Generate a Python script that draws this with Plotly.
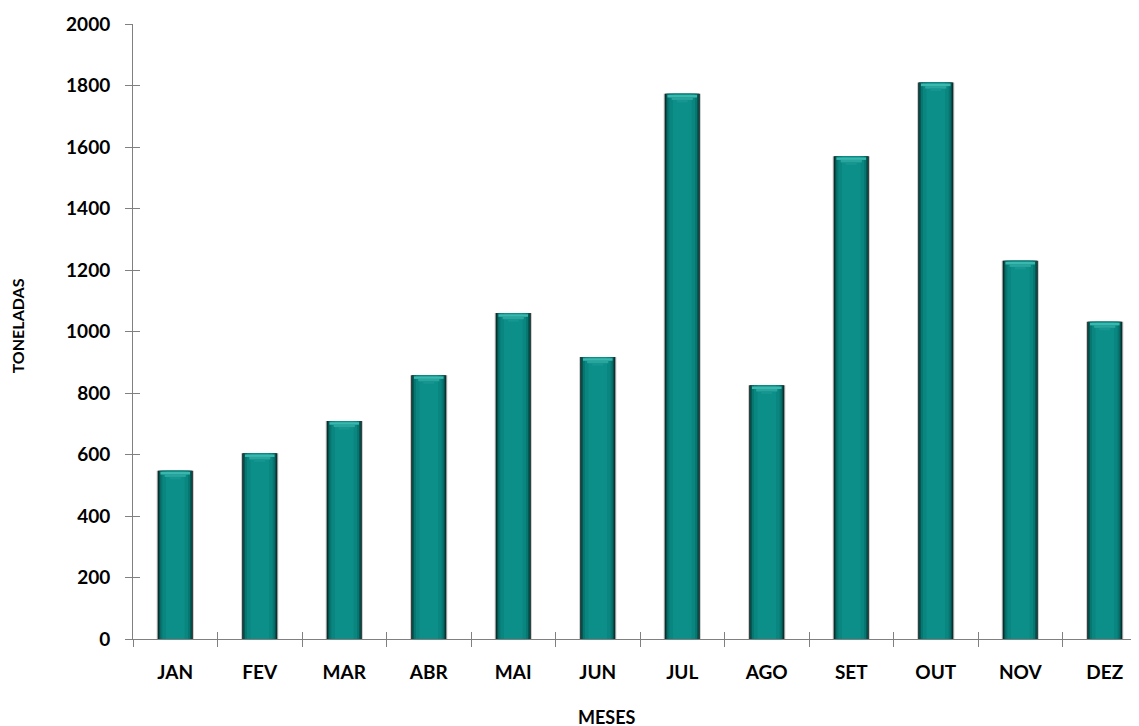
import plotly.graph_objects as go

months = ["JAN", "FEV", "MAR", "ABR", "MAI", "JUN", "JUL", "AGO", "SET", "OUT", "NOV", "DEZ"]
tons = [547, 604, 709, 858, 1060, 917, 1773, 825, 1570, 1810, 1230, 1032]
y_ticks = [0, 200, 400, 600, 800, 1000, 1200, 1400, 1600, 1800, 2000]

FONT = "Lato"
AX = "#808080"

fig = go.Figure()
# soft grey halo, then layered bars to imitate the bevelled 3-D look
layers = [(0.44, "#c8c8c8"), (0.415, "#0b1a19"), (0.395, "#06504c"), (0.355, "#077570"),
          (0.305, "#0a8680"), (0.22, "#0d8f89")]
for w, c in layers:
    fig.add_trace(go.Bar(x=months, y=tons, width=w, marker=dict(color=c, line=dict(width=0)),
                         showlegend=False, hoverinfo=None if c == "#0b1a19" else "skip"))
# light chevron at the top of each bar
chev = [(0.35, 4, 12, "#3ab7ae"), (0.25, 12, 20, "#2aa59e"), (0.13, 20, 28, "#169690")]
for w, lo, hi, c in chev:
    fig.add_trace(go.Bar(x=months, y=[hi - lo] * len(tons), base=[v - hi for v in tons], width=w,
                         marker=dict(color=c, line=dict(width=0)), showlegend=False, hoverinfo="skip"))
# invisible trace for overlay axes (inside ticks to get crossing tick marks)
fig.add_trace(go.Bar(x=months, y=tons, xaxis="x2", yaxis="y2", width=0.01,
                     marker=dict(opacity=0), showlegend=False, hoverinfo="skip"))

tf = dict(family=FONT, size=19, color="black", weight="bold")
xr = [-0.5, len(months) - 0.5]
fig.update_layout(
    width=1139, height=726,
    margin=dict(l=125, r=0, t=16, b=95),
    paper_bgcolor="white", plot_bgcolor="white",
    barmode="overlay",
    font=dict(family=FONT, size=16, color="black"),
    xaxis=dict(
        type="category", range=xr, automargin=False, showline=True, linecolor=AX, linewidth=1,
        ticks="outside", ticklen=7, tickcolor=AX, tickson="boundaries",
        tickfont=tf, ticklabelstandoff=16, showgrid=False,
    ),
    yaxis=dict(
        range=[0, 2000], tickvals=y_ticks, automargin=False, showline=True, linecolor=AX, linewidth=1,
        ticks="outside", ticklen=7, tickcolor=AX,
        tickfont=tf, ticklabelstandoff=11, showgrid=False, zeroline=False,
    ),
    xaxis2=dict(type="category", range=xr, automargin=False, overlaying="x", anchor="y", showline=False,
                ticks="inside", ticklen=7, tickcolor=AX, tickson="boundaries", showticklabels=False,
                showgrid=False),
    yaxis2=dict(range=[0, 2000], tickvals=y_ticks, automargin=False, overlaying="y", anchor="x", side="left",
                showline=False, ticks="inside", ticklen=7, tickcolor=AX, showticklabels=False,
                showgrid=False, zeroline=False),
    annotations=[
        dict(text="<b>TONELADAS</b>", xref="paper", yref="paper", x=-0.1144, y=0.51,
             xanchor="center", yanchor="middle", textangle=-90, showarrow=False,
             font=dict(family=FONT, size=16, color="black")),
        dict(text="<b>MESES</b>", xref="paper", yref="paper", x=0.4675, y=-0.127,
             xanchor="center", yanchor="middle", showarrow=False,
             font=dict(family=FONT, size=18, color="black")),
    ],
)
fig.write_html("out.html")
